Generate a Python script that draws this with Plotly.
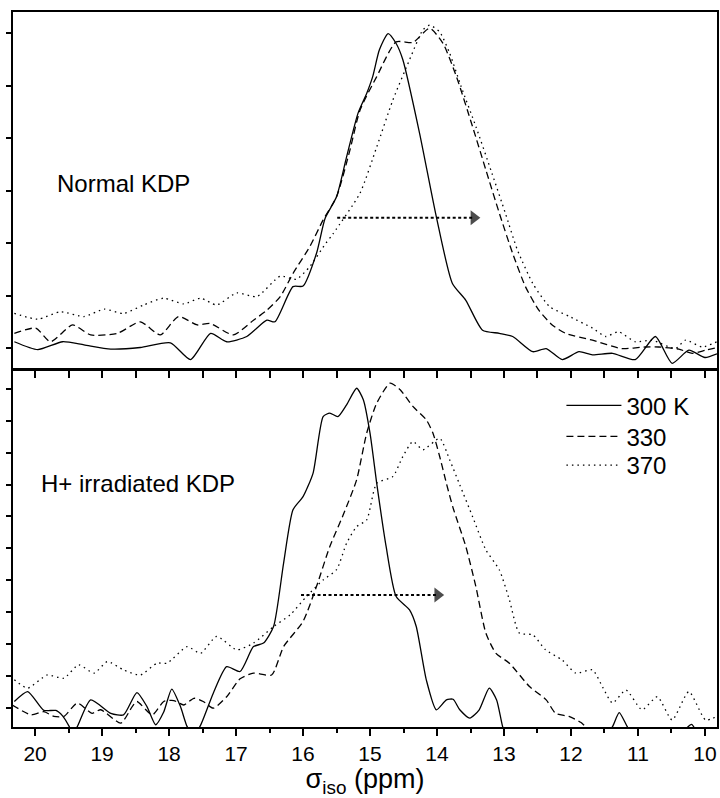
import plotly.graph_objects as go

# ---------------- data (sigma_iso in ppm, intensity in arbitrary units) ----------------
# Top panel: Normal KDP
TOP_X_300 = [20.31, 19.96, 19.59, 19.27, 18.87, 18.43, 17.98, 17.68, 17.38, 17.14, 16.84, 16.54, 16.42,
             16.15, 16.00, 15.80, 15.67, 15.50, 15.35, 15.18, 15.05, 14.96, 14.86, 14.73, 14.61, 14.51,
             14.26, 14.01, 13.77, 13.57, 13.32, 13.07, 12.87, 12.57, 12.37, 12.13, 11.88, 11.68, 11.38,
             11.04, 10.74, 10.49, 10.24, 10.00, 9.82]
TOP_Y_300 = [0.12, -0.03, 0.12, 0.06, -0.02, 0.01, 0.10, -0.22, 0.28, 0.12, 0.22, 0.53, 0.50,
             1.17, 1.18, 1.80, 2.47, 2.88, 3.64, 4.47, 4.85, 5.17, 5.68, 5.99, 5.80, 5.49,
             4.09, 2.50, 1.23, 0.91, 0.34, 0.28, 0.22, -0.07, -0.01, -0.22, -0.07, -0.13, -0.10,
             -0.22, 0.22, -0.29, -0.04, -0.18, -0.11]

TOP_X_330 = [20.31, 19.99, 19.77, 19.44, 19.17, 18.77, 18.43, 18.13, 17.86, 17.58, 17.39, 17.04, 16.74,
             16.54, 16.34, 16.15, 15.90, 15.70, 15.50, 15.30, 15.15, 14.90, 14.61, 14.36, 14.11, 13.91,
             13.71, 13.47, 13.27, 13.07, 12.87, 12.68, 12.48, 12.28, 12.08, 11.68, 11.24, 10.89, 10.69,
             10.39, 10.19, 9.99, 9.82]
TOP_Y_330 = [0.28, 0.38, 0.12, 0.44, 0.25, 0.28, 0.50, 0.25, 0.60, 0.44, 0.47, 0.25, 0.53,
             0.72, 0.98, 1.42, 1.93, 2.44, 2.88, 3.77, 4.53, 5.17, 5.83, 5.82, 6.09, 5.80,
             5.17, 4.22, 3.39, 2.57, 1.80, 1.17, 0.72, 0.44, 0.28, 0.15, -0.01, 0.02, 0.02,
             -0.02, -0.10, -0.04, 0.01]

TOP_X_370 = [20.31, 19.96, 19.62, 19.27, 18.97, 18.68, 18.38, 18.08, 17.78, 17.53, 17.29, 16.99, 16.69,
             16.34, 16.10, 15.90, 15.68, 15.55, 15.15, 14.90, 14.66, 14.41, 14.21, 14.11, 13.96, 13.81,
             13.64, 13.42, 13.18, 12.98, 12.80, 12.57, 12.32, 12.02, 11.68, 11.48, 11.29, 11.04, 10.79,
             10.44, 10.29, 10.04, 9.82]
TOP_Y_370 = [0.66, 0.55, 0.69, 0.60, 0.74, 0.66, 0.82, 0.95, 0.84, 0.95, 0.82, 1.05, 0.98,
             1.37, 1.31, 1.55, 1.96, 2.18, 2.95, 3.83, 4.72, 5.49, 6.06, 6.15, 6.02, 5.61,
             4.98, 4.22, 3.33, 2.57, 1.87, 1.23, 0.79, 0.60, 0.38, 0.22, 0.31, 0.12, 0.15,
             -0.01, 0.15, 0.02, 0.12]

# Bottom panel: H+ irradiated KDP
BOT_X_300 = [20.31, 20.11, 19.87, 19.69, 19.59, 19.49, 19.44, 19.37, 19.17, 18.87, 18.68, 18.48, 18.33,
             18.20, 18.08, 17.96, 17.83, 17.73, 17.64, 17.54, 17.34, 17.14, 16.94, 16.74, 16.59, 16.44,
             16.29, 16.15, 16.00, 15.85, 15.70, 15.60, 15.48, 15.35, 15.20, 15.10, 15.00, 14.90, 14.76,
             14.61, 14.41, 14.31, 14.16, 14.01, 13.86, 13.76, 13.66, 13.51, 13.37, 13.22, 13.11, 13.02,
             12.92, 12.18, 11.58, 11.38, 11.28, 11.16, 10.99, 10.39, 10.20, 10.09, 9.83]
BOT_Y_300 = [0.20, 0.51, -0.08, -0.08, -0.25, -0.59, -0.82, -0.59, 0.25, -0.17, -0.22, 0.48, 0.04,
             -0.53, -0.13, 0.59, 0.04, -0.59, -0.82, -0.59, 0.46, 1.29, 1.14, 1.92, 2.03, 2.55,
             4.54, 6.21, 6.62, 7.36, 9.13, 9.24, 9.13, 9.50, 10.02, 9.66, 8.61, 7.04, 5.06,
             3.49, 3.07, 2.55, 0.88, -0.06, 0.25, 0.27, -0.06, -0.32, -0.06, 0.62, 0.25, -0.59,
             -1.16, -1.63, -1.16, -0.59, -0.15, -0.59, -1.16, -0.85, -0.52, -0.85, -1.16]

BOT_X_330 = [20.34, 20.06, 19.87, 19.72, 19.57, 19.37, 19.15, 19.02, 18.72, 18.55, 18.48, 18.25, 18.08,
             17.93, 17.78, 17.63, 17.49, 17.34, 17.14, 16.94, 16.74, 16.47, 16.29, 16.00, 15.80, 15.60,
             15.40, 15.20, 15.05, 14.90, 14.70, 14.55, 14.36, 14.16, 14.06, 13.96, 13.86, 13.76, 13.57,
             13.42, 13.27, 13.12, 12.92, 12.62, 12.37, 12.23, 12.03, 11.85, 11.78, 11.58, 10.84, 9.83]
BOT_Y_330 = [0.09, -0.22, -0.12, -0.27, -0.27, 0.15, -0.17, -0.06, -0.48, 0.04, 0.20, -0.22, 0.20,
             0.23, 0.09, 0.30, 0.20, -0.01, 0.35, 0.91, 1.09, 1.03, 1.92, 2.71, 3.80, 5.06,
             6.05, 7.15, 8.61, 9.55, 10.18, 9.97, 9.45, 9.03, 8.61, 7.88, 7.04, 6.27, 5.06,
             3.80, 2.34, 1.71, 1.40, 0.67, 0.25, -0.17, -0.27, -0.46, -0.59, -0.85, -1.00, -0.85]

BOT_X_370 = [20.31, 20.11, 19.82, 19.57, 19.35, 19.12, 18.92, 18.68, 18.43, 18.18, 18.03, 17.73, 17.53,
             17.29, 16.99, 16.74, 16.44, 16.19, 15.95, 15.70, 15.50, 15.35, 15.20, 15.05, 14.90, 14.66,
             14.51, 14.36, 14.21, 13.96, 13.81, 13.66, 13.47, 13.27, 13.07, 12.92, 12.77, 12.57, 12.38,
             12.13, 11.93, 11.68, 11.52, 11.38, 11.18, 10.94, 10.71, 10.49, 10.24, 9.99, 9.82]
BOT_Y_370 = [0.88, 0.62, 1.03, 0.93, 1.35, 1.09, 1.45, 1.19, 1.03, 1.40, 1.40, 1.92, 1.71,
             2.24, 1.82, 2.03, 2.55, 2.92, 3.49, 4.01, 4.33, 5.16, 5.68, 5.89, 7.04, 7.25,
             7.88, 8.35, 8.09, 8.45, 7.77, 6.99, 6.00, 4.95, 4.33, 3.39, 2.34, 2.29, 1.82,
             1.50, 1.09, 1.19, 0.62, 0.15, 0.56, -0.06, 0.35, -0.38, 0.51, -0.38, -0.27]

# shift arrows (start -> end)
ARROW_TOP_X = [15.49, 13.45]
ARROW_TOP_Y = [2.48, 2.48]
ARROW_BOT_X = [16.03, 13.99]
ARROW_BOT_Y = [3.54, 3.54]

LEGEND_NAMES = ["300 K", "330", "370"]
PANEL_LABELS = ["Normal KDP", "H+ irradiated KDP"]
X_TICKS = [20, 19, 18, 17, 16, 15, 14, 13, 12, 11, 10]

# ---------------- styling ----------------
FONT = "Liberation Sans, Arial, Helvetica, sans-serif"
DASH = {"300 K": "solid", "330": "7px,4px", "370": "1.5px,4px"}
LW = 1.3
LEGEND_IDS = ["legend", "legend2", "legend3"]

fig = go.Figure()

top_series = [(TOP_X_300, TOP_Y_300), (TOP_X_330, TOP_Y_330), (TOP_X_370, TOP_Y_370)]
bot_series = [(BOT_X_300, BOT_Y_300), (BOT_X_330, BOT_Y_330), (BOT_X_370, BOT_Y_370)]

for name, (xs, ys) in zip(LEGEND_NAMES, top_series):
    fig.add_trace(go.Scatter(x=xs, y=ys, mode="lines", name=name, showlegend=False,
                             line=dict(color="black", width=LW, dash=DASH[name], shape="spline", smoothing=0.6),
                             xaxis="x2", yaxis="y2"))
for name, lid, (xs, ys) in zip(LEGEND_NAMES, LEGEND_IDS, bot_series):
    fig.add_trace(go.Scatter(x=xs, y=ys, mode="lines", name=name, showlegend=True, legend=lid,
                             line=dict(color="black", width=LW, dash=DASH[name], shape="spline", smoothing=0.6),
                             xaxis="x", yaxis="y"))

for (ax_, ay_, xa, ya) in [(ARROW_TOP_X, ARROW_TOP_Y, "x2", "y2"), (ARROW_BOT_X, ARROW_BOT_Y, "x", "y")]:
    fig.add_trace(go.Scatter(x=ax_, y=ay_, mode="lines+markers", showlegend=False,
                             line=dict(color="black", width=2, dash="3px,2.5px"),
                             marker=dict(symbol="triangle-right", size=[0, 13], color="black",
                                         line=dict(width=0)),
                             xaxis=xa, yaxis=ya))

axis_common = dict(showline=True, linecolor="black", linewidth=2, mirror=True,
                   showgrid=False, zeroline=False)

H_PLOT = 798 - 12 - 71
gap = 3 / H_PLOT


def legend_at(py):
    return dict(x=0.779, y=(727 - py) / H_PLOT, xanchor="left", yanchor="middle",
                bgcolor="rgba(0,0,0,0)", borderwidth=0, itemwidth=55,
                font=dict(size=24, family=FONT))


fig.update_layout(
    width=720, height=798, autosize=False,
    margin=dict(l=13, r=1, t=12, b=71),
    paper_bgcolor="white", plot_bgcolor="white",
    font=dict(family=FONT, color="black", size=21),
    xaxis=dict(**axis_common, range=[20.33, 9.82], domain=[0, 1], anchor="y",
               tickmode="array", tickvals=X_TICKS, ticktext=[str(v) for v in X_TICKS],
               ticks="outside", ticklen=7, tickwidth=1.5, tickcolor="black",
               tickfont=dict(size=21, family=FONT),
               minor=dict(dtick=0.5, tick0=0, ticks="outside", ticklen=4, tickwidth=1.5, tickcolor="black"),
               title=dict(text="σ<sub>iso</sub> (ppm)", font=dict(size=27, family=FONT), standoff=5)),
    yaxis=dict(**axis_common, range=[-0.6, 10.56], domain=[0, 0.5 - gap / 2], anchor="x",
               tickmode="array", tickvals=list(range(0, 11)), showticklabels=False,
               ticks="outside", ticklen=5, tickwidth=1.5, tickcolor="black"),
    xaxis2=dict(**axis_common, range=[20.33, 9.82], domain=[0, 1], anchor="y2", matches="x",
                showticklabels=False, dtick=0.5, tick0=0,
                ticks="outside", ticklen=8, tickwidth=1.5, tickcolor="black"),
    yaxis2=dict(**axis_common, range=[-0.38, 6.4], domain=[0.5 + gap / 2, 1], anchor="x2",
                tickmode="array", tickvals=list(range(0, 7)), showticklabels=False,
                ticks="outside", ticklen=5, tickwidth=1.5, tickcolor="black"),
    legend=legend_at(405.7),
    legend2=legend_at(436.7),
    legend3=legend_at(465.5),
    showlegend=True,
)

fig.add_annotation(x=19.71, y=3.14, xref="x2", yref="y2", text=PANEL_LABELS[0], showarrow=False,
                   xanchor="left", yanchor="middle", font=dict(size=24, family=FONT))
fig.add_annotation(x=19.94, y=7.02, xref="x", yref="y", text=PANEL_LABELS[1], showarrow=False,
                   xanchor="left", yanchor="middle", font=dict(size=24, family=FONT))

fig.write_html("out.html", config={"displayModeBar": False},
               post_script="document.body.style.margin='0';")
